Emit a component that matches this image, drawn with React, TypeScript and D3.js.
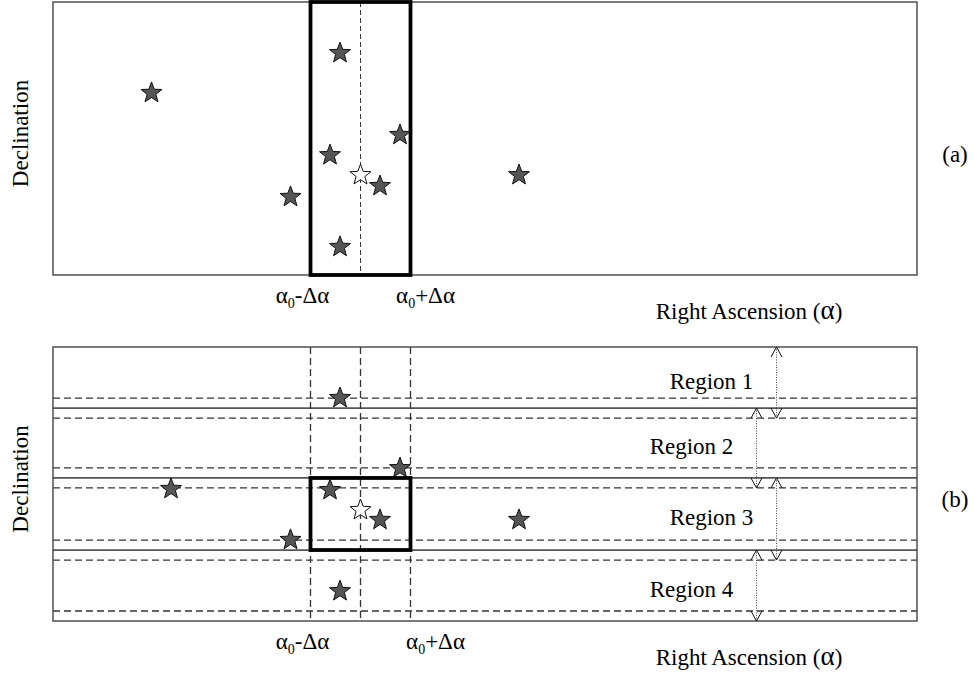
import React, { useEffect, useRef } from 'react';
import * as d3 from 'd3';

// right ascension in units of delta-alpha, centred on alpha0
const alpha0 = 0;
const deltaAlpha = 1;
const raDomain = [-6.15, 11.13];

// panel (a): field stars and the target star
const starRaA = [-0.41, -4.18, 0.79, -0.61, 0.39, -1.4, -0.41, 3.17];
const starDecA = [81.3, 66.7, 51.3, 43.9, 32.6, 28.6, 10.3, 36.6];
const targetDecA = 36.6;

// panel (b)
const starRaB = [-0.41, 0.79, -3.79, -0.61, 0.39, 3.17, -1.4, -0.41];
const starDecB = [81.4, 55.8, 48.2, 47.8, 36.9, 36.9, 29.6, 10.9];
const targetDecB = 40.5;

// declination bands
const regionNames = ['Region 1', 'Region 2', 'Region 3', 'Region 4'];
const regionEdges = [100, 77.7, 52.2, 25.9, 0];
const overlap = 3.65;
const arrowRa = [8.32, 7.92, 8.32, 7.92];

const W = 974;
const H = 673;
const FONT = "'Liberation Serif', 'Times New Roman', Times, serif";

const starPath = (R, r) => {
  const pts = d3.range(10).map(i => [(i * Math.PI) / 5, i % 2 ? r : R]);
  return d3.lineRadial().curve(d3.curveLinearClosed)(pts);
};

const App = () => {
  const ref = useRef();

  useEffect(() => {
    const svg = d3.select(ref.current);
    svg.selectAll('*').remove();

    const x = d3.scaleLinear().domain(raDomain).range([53, 917]);
    const star = starPath(11, 4.6);

    const label = (g, size = 23) => g.append('text')
      .style('font-family', FONT).style('font-size', size + 'px')
      .attr('text-anchor', 'middle');

    const drawPanel = (top, bottom, tag, stars, targetDec, isB) => {
      const y = d3.scaleLinear().domain([0, 100]).range([bottom, top]);
      const g = svg.append('g');

      if (isB) {
        // dashed overlap lines
        const dashed = [];
        regionEdges.slice(1, 4).forEach(e => dashed.push(e + overlap, e - overlap));
        dashed.push(regionEdges[4] + overlap);
        g.selectAll('.hd').data(dashed).enter().append('line')
          .attr('x1', x(raDomain[0])).attr('x2', x(raDomain[1]))
          .attr('y1', d => y(d)).attr('y2', d => y(d))
          .attr('stroke', '#333').attr('stroke-width', 1.3)
          .attr('stroke-dasharray', '7,4');
        // solid region boundaries
        g.selectAll('.hs').data(regionEdges.slice(1, 4)).enter().append('line')
          .attr('x1', x(raDomain[0])).attr('x2', x(raDomain[1]))
          .attr('y1', d => y(d)).attr('y2', d => y(d))
          .attr('stroke', '#555').attr('stroke-width', 1.8);
        // vertical dashed lines at alpha0 +/- delta
        g.selectAll('.vd').data([alpha0 - deltaAlpha, alpha0, alpha0 + deltaAlpha]).enter().append('line')
          .attr('x1', d => x(d)).attr('x2', d => x(d))
          .attr('y1', top).attr('y2', bottom)
          .attr('stroke', '#333').attr('stroke-width', 1.3)
          .attr('stroke-dasharray', '7,4');
      } else {
        g.append('line')
          .attr('x1', x(alpha0)).attr('x2', x(alpha0))
          .attr('y1', top).attr('y2', bottom)
          .attr('stroke', '#333').attr('stroke-width', 1)
          .attr('stroke-dasharray', '5,3');
      }

      // outer frame
      g.append('rect')
        .attr('x', x(raDomain[0])).attr('y', top)
        .attr('width', x(raDomain[1]) - x(raDomain[0])).attr('height', bottom - top)
        .attr('fill', 'none').attr('stroke', '#444').attr('stroke-width', 1.4);

      // selection box
      const boxTop = isB ? y(regionEdges[2]) : top;
      const boxBottom = isB ? y(regionEdges[3]) : bottom;
      g.append('rect')
        .attr('x', x(alpha0 - deltaAlpha)).attr('y', boxTop)
        .attr('width', x(alpha0 + deltaAlpha) - x(alpha0 - deltaAlpha))
        .attr('height', boxBottom - boxTop)
        .attr('fill', 'none').attr('stroke', '#000').attr('stroke-width', 3.8);

      // stars
      g.selectAll('.star').data(stars).enter().append('path')
        .attr('d', star)
        .attr('transform', d => `translate(${x(d[0])},${y(d[1])})`)
        .attr('fill', '#555').attr('stroke', '#111').attr('stroke-width', 1);
      g.append('path')
        .attr('d', star)
        .attr('transform', `translate(${x(alpha0)},${y(targetDec)})`)
        .attr('fill', '#fff').attr('stroke', '#111').attr('stroke-width', 1);

      if (isB) {
        regionNames.forEach((name, i) => {
          const y1 = y(regionEdges[i]);
          const y2 = y(Math.max(regionEdges[i + 1] - overlap, 0));
          const ax = x(arrowRa[i]);
          g.append('line')
            .attr('x1', ax).attr('x2', ax).attr('y1', y1).attr('y2', y2)
            .attr('stroke', '#444').attr('stroke-width', 1)
            .attr('stroke-dasharray', '1,1.5');
          g.append('path')
            .attr('d', `M${ax - 5.5},${y1 + 10}L${ax},${y1}L${ax + 5.5},${y1 + 10}M${ax - 5.5},${y2 - 10}L${ax},${y2}L${ax + 5.5},${y2 - 10}`)
            .attr('fill', 'none').attr('stroke', '#111').attr('stroke-width', 1);
          // label sits between the solid edge above and the one below
          const lo = y(regionEdges[i + 1]);
          label(g).attr('x', ax - 65).attr('y', (y1 + lo) / 2 + 11).text(name);
        });
      }

      // axis labels
      label(g)
        .attr('transform', `translate(28,${(top + bottom) / 2 - 5}) rotate(-90)`)
        .text('Declination');

      label(g).attr('x', 955).attr('y', (top + bottom) / 2 + 23).text(tag);

      const tickLabel = (xc, sign) => {
        const t = label(g).attr('x', xc).attr('y', bottom + 28);
        t.append('tspan').text('α');
        t.append('tspan').style('font-size', '14px').attr('dy', 5).text('0');
        t.append('tspan').attr('dy', -5).text(sign + 'Δα');
      };
      tickLabel(x(alpha0 - deltaAlpha) - 8, '-');
      tickLabel(x(alpha0 + deltaAlpha) + (isB ? 25 : 15), '+');

      const ra = label(g).attr('x', 749).attr('y', bottom + 44);
      ra.append('tspan').text('Right Ascension (');
      ra.append('tspan').style('font-size', '27px').text('α');
      ra.append('tspan').text(')');
    };

    drawPanel(2, 275, '(a)', starRaA.map((r, i) => [r, starDecA[i]]), targetDecA, false);
    drawPanel(347, 621, '(b)', starRaB.map((r, i) => [r, starDecB[i]]), targetDecB, true);
  }, []);

  return (
    <svg ref={ref} width={W} height={H}
      style={{ position: 'absolute', left: 0, top: 0, background: '#fff' }} />
  );
};

export default App;
